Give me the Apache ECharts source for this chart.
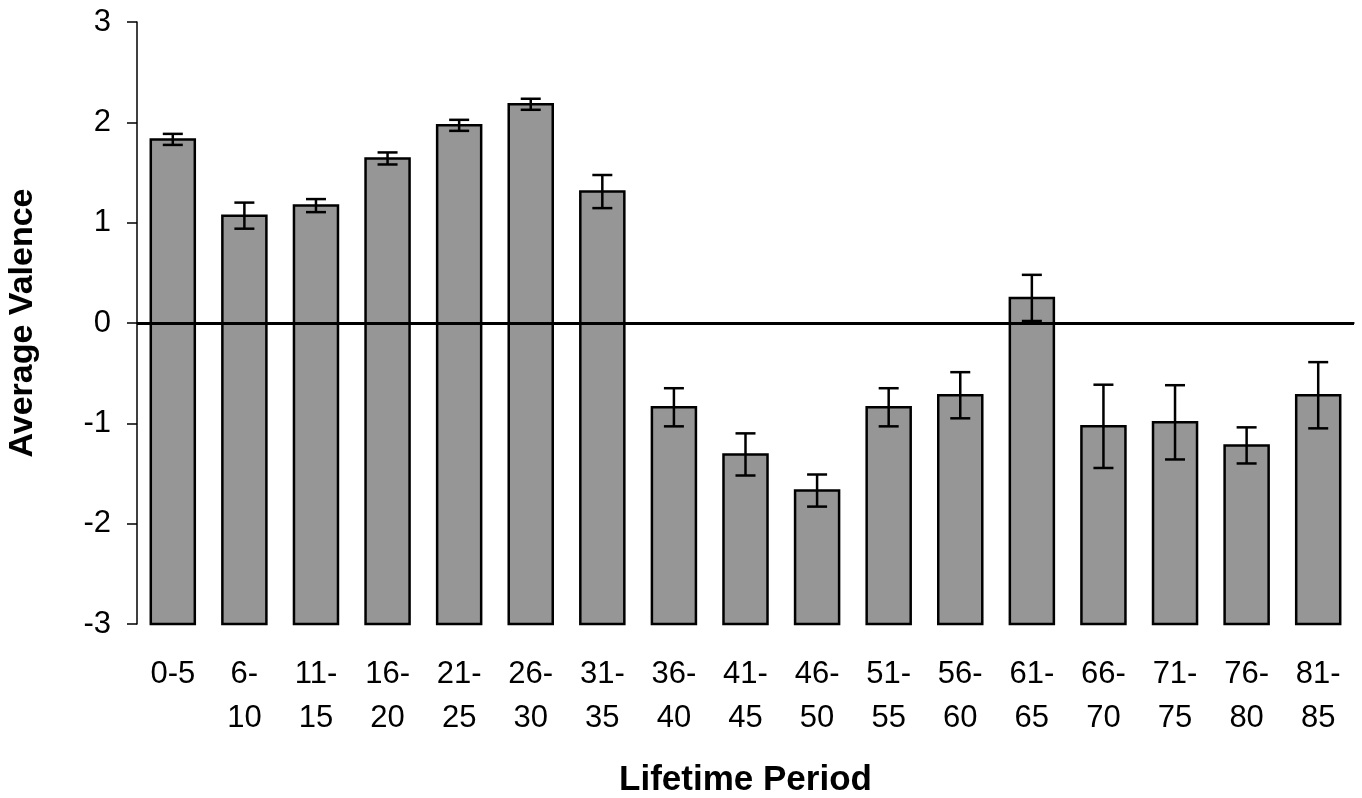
<!DOCTYPE html>
<html>
<head>
<meta charset="utf-8">
<script src="https://cdn.jsdelivr.net/npm/echarts@6/dist/echarts.min.js"></script>
<style>
  html, body { margin: 0; padding: 0; background: #fff; }
  #chart { width: 1362px; height: 798px; }
</style>
</head>
<body>
<div id="chart"></div>
<script>
// lifetime periods and mean valence (± error)
const periods = ['0-5', '6-\n10', '11-\n15', '16-\n20', '21-\n25', '26-\n30', '31-\n35', '36-\n40', '41-\n45',
  '46-\n50', '51-\n55', '56-\n60', '61-\n65', '66-\n70', '71-\n75', '76-\n80', '81-\n85']
const means = [1.83, 1.07, 1.17, 1.64, 1.97, 2.18, 1.31, -0.84, -1.31, -1.67, -0.84, -0.72, 0.25, -1.03, -0.99, -1.22, -0.72]
const errors = [0.055, 0.13, 0.065, 0.06, 0.055, 0.055, 0.165, 0.19, 0.21, 0.16, 0.19, 0.23, 0.23, 0.415, 0.37, 0.18, 0.33]
const yTicks = [-3, -2, -1, 0, 1, 2, 3]

const font = "'Liberation Sans', Arial, sans-serif"
const yMin = yTicks[0]

const chart = echarts.init(document.getElementById('chart'))

chart.setOption({
  animation: false,
  grid: { left: 137, right: 8, top: 22, bottom: 174, outerBoundsMode: 'none' },
  xAxis: {
    type: 'category',
    data: periods,
    name: 'Lifetime Period',
    nameLocation: 'middle',
    nameGap: 139,
    nameTextStyle: { fontFamily: font, fontSize: 35, fontWeight: 'bold', color: '#000' },
    axisLine: { lineStyle: { color: '#000', width: 1.5 } },
    axisTick: { length: 10, lineStyle: { color: '#000', width: 1.5 } },
    axisLabel: {
      interval: 0,
      margin: 28,
      color: '#000',
      fontFamily: font,
      fontSize: 31,
      lineHeight: 44
    }
  },
  yAxis: {
    type: 'value',
    min: yTicks[0],
    max: yTicks[yTicks.length - 1],
    interval: 1,
    name: 'Average Valence',
    nameLocation: 'middle',
    nameRotate: 90,
    nameGap: 97,
    nameTextStyle: { fontFamily: font, fontSize: 34, fontWeight: 'bold', color: '#000' },
    axisLine: { show: true, onZero: false, lineStyle: { color: '#000', width: 1.5 } },
    axisTick: { show: true, length: 10, lineStyle: { color: '#000', width: 1.5 } },
    splitLine: { show: false },
    axisLabel: { margin: 26, color: '#000', fontFamily: font, fontSize: 31 }
  },
  series: [
    {
      // bars start at the bottom of the axis (-3), like the original
      type: 'custom',
      data: means.map((v, i) => [i, v]),
      z: 2,
      renderItem(params, api) {
        const top = api.coord([api.value(0), api.value(1)])
        const base = api.coord([api.value(0), yMin])
        const w = api.size([1, 0])[0] * 0.615
        return {
          type: 'rect',
          shape: { x: top[0] - w / 2, y: top[1], width: w, height: base[1] - top[1] },
          style: { fill: '#969696', stroke: '#000', lineWidth: 2.5 }
        }
      }
    },
    {
      type: 'custom',
      data: means.map((v, i) => [i, v - errors[i], v + errors[i]]),
      z: 3,
      renderItem(params, api) {
        const lo = api.coord([api.value(0), api.value(1)])
        const hi = api.coord([api.value(0), api.value(2)])
        const cap = 10
        const style = { stroke: '#000', lineWidth: 2.5 }
        return {
          type: 'group',
          children: [
            { type: 'line', shape: { x1: lo[0], y1: lo[1], x2: hi[0], y2: hi[1] }, style },
            { type: 'line', shape: { x1: hi[0] - cap, y1: hi[1], x2: hi[0] + cap, y2: hi[1] }, style },
            { type: 'line', shape: { x1: lo[0] - cap, y1: lo[1], x2: lo[0] + cap, y2: lo[1] }, style }
          ]
        }
      },
      markLine: {
        silent: true,
        symbol: 'none',
        label: { show: false },
        lineStyle: { color: '#000', width: 3, type: 'solid' },
        data: [{ yAxis: 0 }]
      }
    }
  ]
})
</script>
</body>
</html>
